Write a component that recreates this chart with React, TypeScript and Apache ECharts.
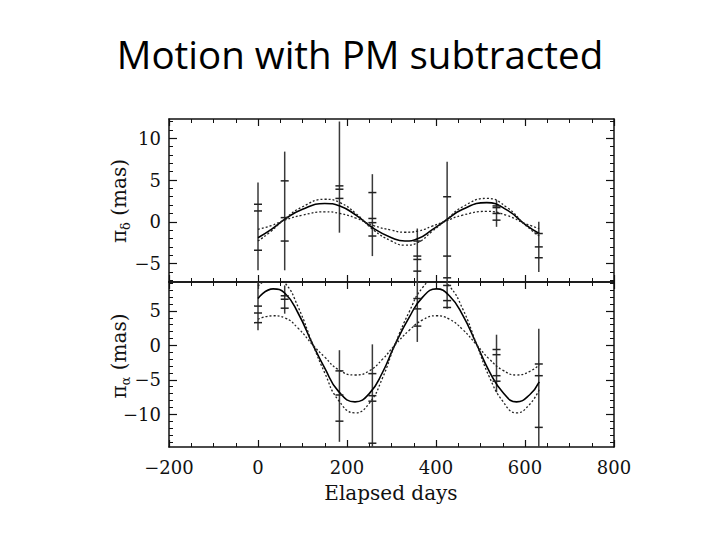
import React, { useEffect, useRef } from "react";
import * as echarts from "echarts";

// ---- Data ----
const xTicks = [-200, 0, 200, 400, 600, 800];

// Top panel (pi_delta)
const deltaMajorTicks = [-5, 0, 5, 10];
const deltaMinorTicks = [-7, -6, -5, -4, -3, -2, -1, 0, 1, 2, 3, 4, 5, 6, 7, 8, 9, 10, 11, 12];
const deltaCurveDays = [0, 30, 60, 100, 150, 184, 220, 260, 300, 330, 360, 390, 420, 460, 514, 560, 600, 632];
const deltaSolid = [-1.9, -0.9, 0.3, 1.5, 2.2, 1.9, 0.8, -0.8, -1.9, -2.3, -2.0, -1.0, 0.1, 1.5, 2.3, 1.4, -0.3, -1.4];
const deltaUpper = [-2.3, -1.1, 0.35, 1.8, 2.7, 2.3, 1.0, -1.0, -2.3, -2.8, -2.45, -1.2, 0.1, 1.8, 2.8, 1.7, -0.35, -1.7];
const deltaLower = [-0.9, -0.45, 0.2, 0.8, 1.2, 1.0, 0.45, -0.45, -1.0, -1.25, -1.1, -0.55, 0.05, 0.8, 1.25, 0.75, -0.2, -0.8];
const deltaBarDays = [0, 60, 183, 257, 358, 425, 536, 631];
const deltaBarLow = [-5.8, -5.8, -1.3, -4.1, -9.0, -9.0, -0.6, -6.0];
const deltaBarHigh = [4.7, 8.4, 12.0, 5.7, -0.8, 7.2, 2.6, 0.0];
const deltaPtDays = [0, 0, 0, 60, 60, 60, 183, 183, 183, 257, 257, 257, 257, 358, 358, 358, 358, 425, 425, 425, 536, 536, 536, 536, 631, 631, 631];
const deltaPtVals = [2.1, 1.3, -3.4, 4.9, 0.5, -2.3, 4.3, 3.9, 2.8, 3.5, 0.4, -0.1, -1.7, -2.3, -4.1, -4.5, -5.9, 3.0, -4.1, -6.7, 1.9, 1.7, 1.0, 0.2, -1.4, -3.0, -4.3];

// Bottom panel (pi_alpha)
const alphaMajorTicks = [-10, -5, 0, 5];
const alphaMinorTicks = [-14, -13, -12, -11, -10, -9, -8, -7, -6, -5, -4, -3, -2, -1, 0, 1, 2, 3, 4, 5, 6, 7, 8, 9];
const alphaCurveDays = [0, 34, 60, 90, 124, 150, 180, 218, 250, 280, 307, 340, 370, 401, 430, 460, 491, 520, 550, 581, 610, 632];
const alphaSolid = [6.8, 8.2, 7.6, 4.7, 0.0, -3.3, -6.6, -8.2, -7.0, -3.9, 0.0, 4.1, 7.0, 8.2, 7.2, 4.4, 0.2, -3.8, -6.8, -8.2, -7.2, -5.3];
const alphaUpper = [8.6, 9.8, 9.1, 5.6, 0.0, -4.0, -7.9, -9.8, -8.4, -4.7, 0.0, 4.9, 8.4, 9.8, 8.6, 5.3, 0.2, -4.6, -8.1, -9.8, -8.6, -6.4];
const alphaLower = [3.8, 4.3, 4.0, 2.5, 0.0, -1.7, -3.5, -4.3, -3.7, -2.0, 0.0, 2.2, 3.7, 4.3, 3.8, 2.3, 0.1, -2.0, -3.6, -4.3, -3.8, -2.8];
const alphaBarDays = [0, 60, 183, 257, 358, 425, 536, 631];
const alphaBarLow = [2.2, 4.6, -14.0, -14.8, 0.5, 5.3, -6.8, -14.8];
const alphaBarHigh = [9.4, 8.7, -0.7, 0.15, 10.2, 10.2, 1.55, 2.4];
const alphaPtDays = [0, 0, 0, 60, 60, 60, 183, 183, 183, 257, 257, 257, 257, 358, 358, 358, 425, 425, 425, 536, 536, 536, 536, 631, 631, 631];
const alphaPtVals = [5.7, 4.7, 3.3, 7.2, 6.7, 5.4, -3.7, -7.2, -11.0, -4.1, -7.3, -8.1, -14.2, 6.8, 5.3, 2.8, 8.7, 6.5, 5.5, -0.6, -1.35, -4.4, -5.2, -2.7, -4.4, -11.9];

const SERIF = "DejaVu Serif";
const INK = "#111";

function pairs(xs: number[], ys: number[]) {
  return xs.map((x, i) => [x, ys[i]]);
}
function triples(xs: number[], lo: number[], hi: number[]) {
  return xs.map((x, i) => [x, lo[i], hi[i]]);
}

const barRender = (params: any, api: any) => {
  const x = api.value(0);
  const p1 = api.coord([x, api.value(1)]);
  const p2 = api.coord([x, api.value(2)]);
  const cs = params.coordSys;
  const y1 = Math.max(cs.y, Math.min(p1[1], p2[1]));
  const y2 = Math.min(cs.y + cs.height, Math.max(p1[1], p2[1]));
  if (y2 <= y1) return null;
  return {
    type: "line",
    shape: { x1: p1[0], y1, x2: p1[0], y2 },
    style: { stroke: "#3a3a3a", lineWidth: 1.5 },
  };
};

const plusRender = (params: any, api: any) => {
  const p = api.coord([api.value(0), api.value(1)]);
  const cs = params.coordSys;
  if (p[1] < cs.y || p[1] > cs.y + cs.height) return null;
  return {
    type: "line",
    shape: { x1: p[0] - 4, y1: p[1], x2: p[0] + 4, y2: p[1] },
    style: { stroke: "#222", lineWidth: 1.5 },
  };
};

const fmt = (v: number) => String(v).replace("-", "\u2212");

function xAxis(gridIndex: number, position: string, labels: boolean) {
  return {
    type: "value",
    gridIndex,
    position,
    min: -200,
    max: 800,
    interval: 200,
    axisLine: { show: true, onZero: false, lineStyle: { color: INK, width: 1.5 } },
    axisTick: { show: true, inside: true, length: 7, lineStyle: { color: INK, width: 1.2 } },
    minorTick: { show: true, splitNumber: 4, length: 4, lineStyle: { color: INK, width: 1 } },
    splitLine: { show: false },
    minorSplitLine: { show: false },
    axisLabel: labels
      ? { show: true, margin: 11, color: INK, fontFamily: SERIF, fontSize: 18, customValues: xTicks, formatter: fmt }
      : { show: false },
  };
}

function yAxes(gridIndex: number, min: number, max: number, major: number[], minor: number[]) {
  const base = { type: "value", gridIndex, min, max, splitLine: { show: false } };
  const majorAxis = (position: string, labels: boolean) => ({
    ...base,
    position,
    axisLine: { show: true, onZero: false, lineStyle: { color: INK, width: 1.5 } },
    axisTick: { show: true, inside: true, length: 8, customValues: major, lineStyle: { color: INK, width: 1.2 } },
    axisLabel: labels
      ? { show: true, margin: 8, color: INK, fontFamily: SERIF, fontSize: 18, customValues: major, formatter: fmt }
      : { show: false },
  });
  const minorAxis = (position: string) => ({
    ...base,
    position,
    axisLine: { show: false, onZero: false },
    axisTick: { show: true, inside: true, length: 4, customValues: minor, lineStyle: { color: INK, width: 1 } },
    axisLabel: { show: false },
  });
  return [majorAxis("left", true), minorAxis("left"), majorAxis("right", false), minorAxis("right")];
}

function curve(name: string, xs: number[], ys: number[], xi: number, yi: number, dotted: boolean) {
  return {
    name,
    type: "line",
    xAxisIndex: xi,
    yAxisIndex: yi,
    data: pairs(xs, ys),
    smooth: true,
    showSymbol: false,
    clip: true,
    lineStyle: dotted ? { color: "#222", width: 1.3, type: [2, 2] } : { color: "#000", width: 1.6 },
    z: 3,
  };
}

function yName(text: string, y: number) {
  return {
    type: "text",
    x: 119,
    y,
    rotation: Math.PI / 2,
    style: {
      text,
      align: "center",
      verticalAlign: "middle",
      fill: INK,
      rich: {
        p: { fontFamily: SERIF, fontSize: 20, lineHeight: 26, fill: INK, verticalAlign: "middle" },
        s: { fontFamily: SERIF, fontSize: 13, lineHeight: 26, fill: INK, verticalAlign: "bottom" },
      },
    },
  };
}

export default function App() {
  const ref = useRef<HTMLDivElement>(null);
  useEffect(() => {
    document.body.style.margin = "0";
    const chart = echarts.init(ref.current!, null, { renderer: "svg" });
    const option: any = {
      animation: false,
      backgroundColor: "#fff",
      grid: [
        { left: 169, right: 106, top: 119, height: 163 },
        { left: 169, right: 106, top: 282, height: 165 },
      ],
      xAxis: [xAxis(0, "bottom", false), xAxis(0, "top", false), xAxis(1, "bottom", true), xAxis(1, "top", false)],
      yAxis: [
        ...yAxes(0, -7.2, 12.3, deltaMajorTicks, deltaMinorTicks),
        ...yAxes(1, -14.75, 9.2, alphaMajorTicks, alphaMinorTicks),
      ],
      graphic: [
        {
          type: "text",
          x: 360,
          y: 54,
          style: {
            text: "Motion with PM subtracted",
            font: '38.5px "Open Sans"',
            fill: "#000",
            align: "center",
            verticalAlign: "middle",
          },
        },
        {
          type: "text",
          x: 391,
          y: 493,
          style: {
            text: "Elapsed days",
            font: `20px "${SERIF}"`,
            fill: INK,
            align: "center",
            verticalAlign: "middle",
          },
        },
        yName("{p|\u03C0}{s|\u03B4}{p| (mas)}", 201),
        yName("{p|\u03C0}{s|\u03B1}{p| (mas)}", 356),
      ],
      series: [
        curve("delta fit", deltaCurveDays, deltaSolid, 0, 0, false),
        curve("delta upper", deltaCurveDays, deltaUpper, 0, 0, true),
        curve("delta lower", deltaCurveDays, deltaLower, 0, 0, true),
        { name: "delta error", type: "custom", xAxisIndex: 0, yAxisIndex: 0, renderItem: barRender, data: triples(deltaBarDays, deltaBarLow, deltaBarHigh), z: 2 },
        { name: "delta points", type: "custom", xAxisIndex: 0, yAxisIndex: 0, renderItem: plusRender, data: pairs(deltaPtDays, deltaPtVals), z: 4 },
        curve("alpha fit", alphaCurveDays, alphaSolid, 2, 4, false),
        curve("alpha upper", alphaCurveDays, alphaUpper, 2, 4, true),
        curve("alpha lower", alphaCurveDays, alphaLower, 2, 4, true),
        { name: "alpha error", type: "custom", xAxisIndex: 2, yAxisIndex: 4, renderItem: barRender, data: triples(alphaBarDays, alphaBarLow, alphaBarHigh), z: 2 },
        { name: "alpha points", type: "custom", xAxisIndex: 2, yAxisIndex: 4, renderItem: plusRender, data: pairs(alphaPtDays, alphaPtVals), z: 4 },
      ],
    };
    chart.setOption(option);
    return () => chart.dispose();
  }, []);
  return <div ref={ref} style={{ width: 720, height: 540 }} />;
}
